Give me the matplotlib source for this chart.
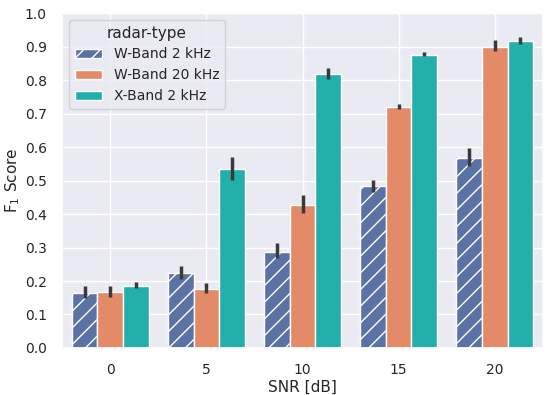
import numpy as np
import matplotlib.pyplot as plt
import seaborn as sns

sns.set_theme(style="darkgrid")
plt.rcParams["hatch.color"] = "white"

snr = ["0", "5", "10", "15", "20"]
radar_types = ["W-Band 2 kHz", "W-Band 20 kHz", "X-Band 2 kHz"]

# mean F1 score per radar type
w2_mean = [0.164, 0.223, 0.287, 0.484, 0.567]
w20_mean = [0.167, 0.175, 0.427, 0.718, 0.899]
x2_mean = [0.185, 0.534, 0.817, 0.875, 0.917]

# confidence interval (low, high)
w2_lo = [0.148, 0.205, 0.268, 0.467, 0.543]
w2_hi = [0.186, 0.245, 0.312, 0.501, 0.596]
w20_lo = [0.151, 0.163, 0.402, 0.713, 0.888]
w20_hi = [0.186, 0.193, 0.457, 0.727, 0.919]
x2_lo = [0.180, 0.503, 0.803, 0.871, 0.909]
x2_hi = [0.198, 0.571, 0.835, 0.884, 0.927]

means = [w2_mean, w20_mean, x2_mean]
los = [w2_lo, w20_lo, x2_lo]
his = [w2_hi, w20_hi, x2_hi]
colors = ["#5b73a4", "#e38b69", "#23b0ab"]
hatches = ["//", None, None]

fig, ax = plt.subplots(figsize=(5.5, 3.95), dpi=100)

x = np.arange(len(snr))
w = 0.8 / 3
for i in range(3):
    pos = x - 0.4 + w / 2 + i * w
    ax.bar(pos, means[i], width=w, color=colors[i], edgecolor="white",
           linewidth=1.0, hatch=hatches[i], label=radar_types[i])
    for p, lo, hi in zip(pos, los[i], his[i]):
        ax.plot([p, p], [lo, hi], color="#3a3a3a", linewidth=2.5,
                solid_capstyle="butt", zorder=3)

ax.set_xticks(x)
ax.set_xticklabels(snr)
ax.set_xlim(-0.5, 4.5)
ax.set_ylim(0, 1.0)
ax.set_yticks(np.arange(0, 1.01, 0.1))
ax.tick_params(labelsize=10, pad=5)
ax.set_xlabel("SNR [dB]", fontsize=11, labelpad=2)
ax.set_ylabel("F$_1$ Score", fontsize=11, labelpad=2)
ax.legend(title="radar-type", loc="upper left", fontsize=10, title_fontsize=11)

plt.subplots_adjust(left=0.113, right=0.987, top=0.967, bottom=0.119)
plt.savefig("out.png")
